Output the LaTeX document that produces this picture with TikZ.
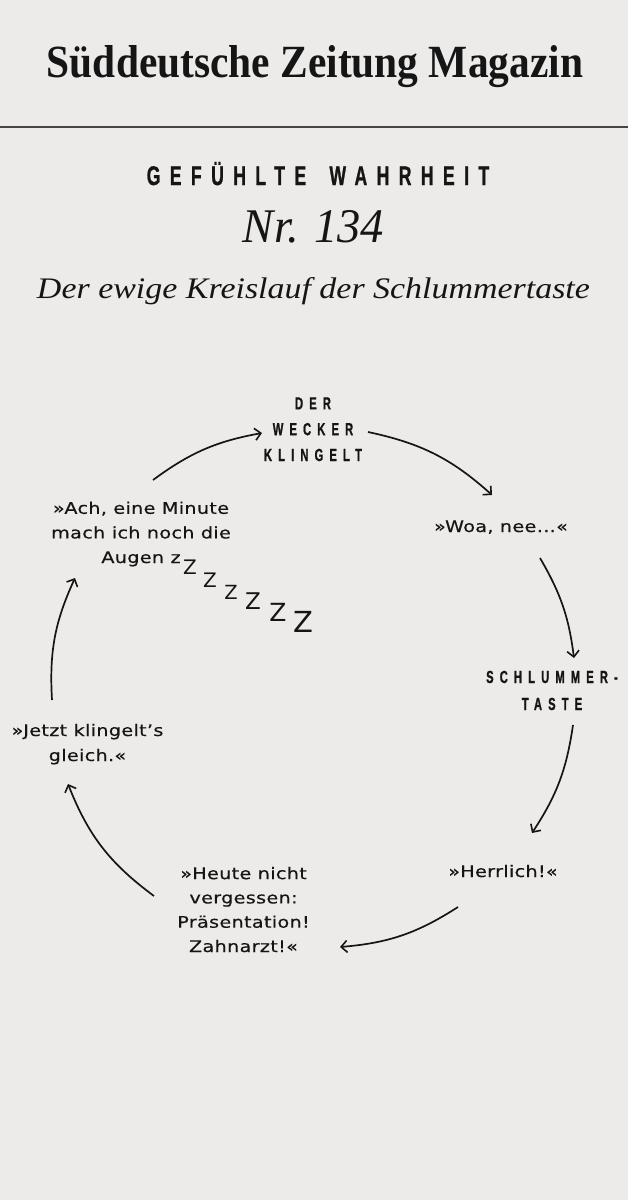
\documentclass[tikz,border=0pt]{standalone}
\usepackage{fontspec}
\usetikzlibrary{arrows.meta}
\newfontfamily\headfont{Liberation Serif}
\newfontfamily\condfont[FakeStretch=0.64,LetterSpace=35,FakeBold=0.9]{Liberation Sans}
\newfontfamily\kickerfont[FakeStretch=0.65,LetterSpace=35,FakeBold=0.9]{Liberation Sans}
\newfontfamily\bodyfont[FakeStretch=1.2,LetterSpace=2,FakeBold=0.4]{DejaVu Sans}
\newfontfamily\zfont{DejaVu Sans}
\definecolor{bg}{HTML}{ECEBE9}
\definecolor{ink}{HTML}{151515}
\definecolor{rulegray}{HTML}{454545}
\tikzset{
  label cond/.style={inner sep=0pt, align=center, text=ink, anchor=base,
    font=\condfont\bfseries\fontsize{17.5}{25.8}\selectfont},
  quote/.style={inner sep=0pt, align=center, text=ink, anchor=base,
    font=\bodyfont\fontsize{16}{24.6}\selectfont},
  zz/.style={inner sep=0pt, text=ink, anchor=center},
  cyc/.style={draw=ink, line width=1.7pt,
    -{Straight Barb[length=6pt,width=12pt,line width=1.6pt]}}
}
\begin{document}
\begin{tikzpicture}[x=1pt,y=1pt]
\fill[bg] (0,0) rectangle (628,-1200);
\useasboundingbox (0,0) rectangle (628,-1200);

% header
\node[inner sep=0pt, anchor=base, text=ink] (mast) at (315,-77)
  {\resizebox{536pt}{32pt}{\headfont\bfseries Süddeutsche Zeitung Magazin}};
\coordinate (ruleL) at (0,-127);
\coordinate (ruleR) at (628,-127);
\draw[rulegray, line width=2pt] (ruleL) -- (ruleR);

\node[inner sep=0pt, anchor=base, text=ink,
  font=\kickerfont\bfseries\fontsize{27}{30}\selectfont] (kicker) at (318,-185)
  {GEFÜHLTE\hspace{9pt} WAHRHEIT};
\node[inner sep=0pt, anchor=base, text=ink] (nr) at (313.5,-242)
  {\resizebox{141pt}{32pt}{\headfont\itshape Nr. 134}};
\node[inner sep=0pt, anchor=base, text=ink] (sub) at (313.5,-298)
  {\resizebox{553pt}{21pt}{\headfont\itshape Der ewige Kreislauf der Schlummertaste}};

% cycle labels (base anchor = baseline of last line)
\node[label cond] (wecker) at (313,-461) {DER\\WECKER\\KLINGELT};
\node[quote] (woa) at (501,-532) {»Woa, nee…«};
\node[label cond, font=\condfont\bfseries\fontsize{17.5}{27}\selectfont] (taste) at (552,-710) {SCHLUMMER-\\TASTE};
\node[quote] (herrlich) at (503,-877) {»Herrlich!«};
\node[quote, font=\bodyfont\fontsize{16}{24.3}\selectfont] (heute) at (243.5,-952) {»Heute nicht\\vergessen:\\Präsentation!\\Zahnarzt!«};
\node[quote, font=\bodyfont\fontsize{16}{25}\selectfont] (jetzt) at (87.5,-761) {»Jetzt klingelt’s\\gleich.«};
\node[quote] (ach) at (141,-563) {»Ach, eine Minute\\mach ich noch die\\Augen z};

% sleeping Zs
\node[zz, font=\zfont\fontsize{20}{20}\selectfont] (z1) at (190,-567) {Z};
\node[zz, font=\zfont\fontsize{20}{20}\selectfont] (z2) at (210,-580) {Z};
\node[zz, font=\zfont\fontsize{19.5}{20}\selectfont] (z3) at (231,-592) {Z};
\node[zz, font=\zfont\fontsize{23}{23}\selectfont] (z4) at (253,-601) {Z};
\node[zz, font=\zfont\fontsize{25}{25}\selectfont] (z5) at (278,-612) {Z};
\node[zz, font=\zfont\fontsize{29}{29}\selectfont] (z6) at (303,-622) {Z};

% arrow end points
\coordinate (c1s) at (153,-480);  \coordinate (c1e) at (262,-433);
\coordinate (c2s) at (368,-432);  \coordinate (c2e) at (492,-495);
\coordinate (c3s) at (540,-558);  \coordinate (c3e) at (574,-658);
\coordinate (c4s) at (573,-725);  \coordinate (c4e) at (532,-833);
\coordinate (c5s) at (458,-907);  \coordinate (c5e) at (340,-947);
\coordinate (c6s) at (154,-896);  \coordinate (c6e) at (68,-784);
\coordinate (c7s) at (52,-700);   \coordinate (c7e) at (75,-578);

\draw[cyc] (c1s) to[bend left=13] (c1e);
\draw[cyc] (c2s) to[bend left=15] (c2e);
\draw[cyc] (c3s) to[bend left=11.5] (c3e);
\draw[cyc] (c4s) to[bend left=12.5] (c4e);
\draw[cyc] (c5s) to[bend left=14] (c5e);
\draw[cyc] (c6s) to[bend left=16] (c6e);
\draw[cyc] (c7s) to[bend left=14] (c7e);
\end{tikzpicture}
\end{document}
